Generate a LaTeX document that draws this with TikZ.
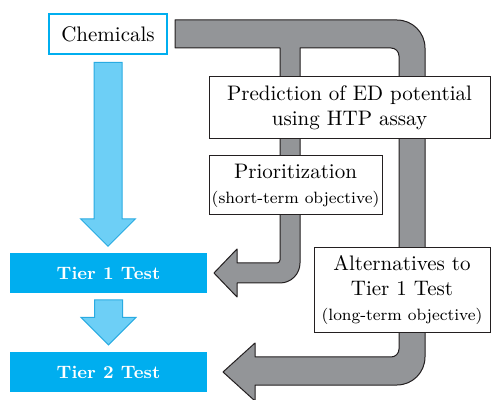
\documentclass[tikz,border=0pt]{standalone}
\usetikzlibrary{positioning}
\usetikzlibrary{shapes.arrows}
\definecolor{chemc}{RGB}{0,174,239}
\definecolor{arrowc}{RGB}{109,207,246}
\definecolor{arrowedgec}{RGB}{41,171,226}
\colorlet{tierc}{chemc}
\definecolor{pipec}{RGB}{147,149,152}
\definecolor{edgec}{RGB}{35,31,32}

\begin{document}
\begin{tikzpicture}[x=0.5pt,y=-0.5pt,
  whitebox/.style={draw=edgec,fill=white,line width=0.5pt,shape=rectangle,inner sep=0pt,align=center,font=\fontsize{10.5}{12.5}\selectfont},
  tierbox/.style={fill=tierc,shape=rectangle,minimum height=20pt,minimum width=98.5pt,text=white,font=\fontsize{9}{11}\selectfont\bfseries},
  bluearrow/.style={shape=single arrow,shape border rotate=270,fill=arrowc,draw=arrowedgec,line width=0.5pt,inner sep=6.75pt,minimum width=27pt,single arrow head extend=6.75pt},
  pipe/.style={fill=pipec,draw=edgec,line width=0.5pt,line join=round}]
\useasboundingbox (0,0) rectangle (492,400);

% gray pipes, drawn first so the boxes cover them
\draw[pipe] (175,20) -- (397,20) arc[start angle=-90,end angle=0,radius=28]
  -- (425,357) arc[start angle=0,end angle=90,radius=28]
  -- (255,385) -- (255,401) -- (223,372) -- (255,343) -- (255,357)
  -- (391,357) arc[start angle=90,end angle=0,radius=8]
  -- (399,56) arc[start angle=0,end angle=-90,radius=8]
  -- (300,48) -- (300,263) arc[start angle=0,end angle=90,radius=20]
  -- (237,283) -- (237,297) -- (214,273) -- (237,249) -- (237,263)
  -- (277,263) arc[start angle=90,end angle=0,radius=3]
  -- (280,48) -- (175,48) -- cycle;

\node[whitebox,draw=chemc,line width=0.75pt,minimum width=59pt,minimum height=20pt]
(chem) at (108,34) {Chemicals};
\node[whitebox,minimum width=140.5pt,minimum height=31pt]
(pred) at (349.5,108) {Prediction of ED potential\\using HTP assay};
\node[whitebox,minimum width=86.5pt,minimum height=29.5pt]
(prio) at (295.5,185.5) {Prioritization\\{\fontsize{8.2}{10}\selectfont(short-term objective)}};
\node[whitebox,minimum width=88pt,minimum height=42.5pt]
(alt) at (402,290.5) {Alternatives to\\Tier 1 Test\\{\fontsize{8.2}{10}\selectfont(long-term objective)}};

\node[tierbox] (tier1) at (108.5,273) {Tier 1 Test};
\node[tierbox] (tier2) at (108.5,372) {Tier 2 Test};

\node[bluearrow,minimum height=92pt,below=3.5pt of chem] (arrow1) {};
\node[bluearrow,minimum height=22.5pt,below=3pt of tier1] (arrow2) {};

\end{tikzpicture}
\end{document}
